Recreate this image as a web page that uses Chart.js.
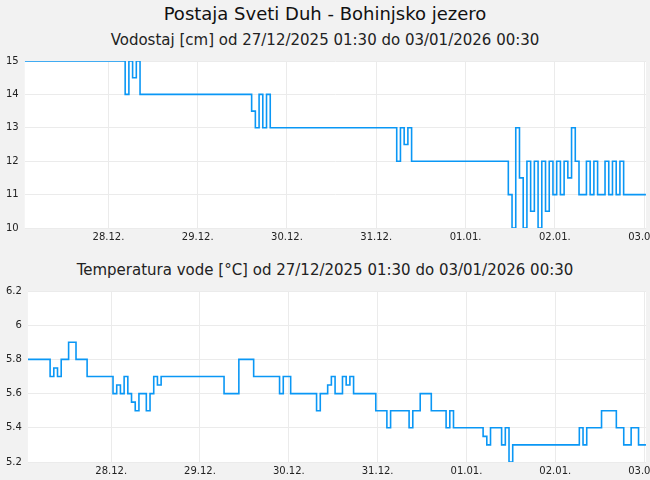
<!DOCTYPE html>
<html><head><meta charset="utf-8">
<script src="https://cdn.jsdelivr.net/npm/chart.js@4"></script>
<style>
body{margin:0;background:#f2f2f2;font-family:"DejaVu Sans",sans-serif;width:650px;height:480px;overflow:hidden;position:relative}
#t{position:absolute;top:3px;left:0;width:650px;text-align:center;font-size:18px;color:#111}
.c{position:absolute;left:0;width:663px}
.s{position:absolute;left:0;width:650px;text-align:center;font-size:15px;color:#222}
</style></head><body>
<div id="t">Postaja Sveti Duh - Bohinjsko jezero</div>
<div class="s" style="top:31px">Vodostaj [cm] od 27/12/2025 01:30 do 03/01/2026 00:30</div>
<div class="s" style="top:261px">Temperatura vode [°C] od 27/12/2025 01:30 do 03/01/2026 00:30</div>
<div class="c" style="top:49px;height:197px"><canvas id="c1"></canvas></div>
<div class="c" style="top:279px;height:201px"><canvas id="c2"></canvas></div>
<script>
const tickHours=[22.5,46.5,70.5,94.5,118.5,142.5,166.5];
const tickLabels=["28.12.","29.12.","30.12.","31.12.","01.01.","02.01.","03.01."];
const level=[
15,15,15,15,15,15,15,15,15,15,15,15,15,15,15,15,15,15,15,15,15,15,15,15,15,15,15,
14,15,14.5,15,14,
14,14,14,14,14,14,14,14,14,14,14,14,14,14,14,14,14,14,14,14,14,14,14,14,14,14,14,14,14,
13.5,13,14,13,14,
13,13,13,13,13,13,13,13,13,13,13,13,13,13,13,13,13,13,13,13,13,13,13,13,13,13,13,13,13,13,13,13,13,13,
12,13,12.5,13,
12,12,12,12,12,12,12,12,12,12,12,12,12,12,12,12,12,12,12,12,12,12,12,12,12,12,
11,10,13,11.5,10,12,10.5,12,10,12,10.5,12,11,12,11,12,11.5,13,12,11,11,12,11,12,11,11,12,11,12,11,12,
11,11,11,11,11,11,11];
const temp=[
5.8,5.8,5.8,5.8,5.8,5.8,
5.7,5.75,5.7,
5.8,5.8,
5.9,5.9,
5.8,5.8,5.8,
5.7,5.7,5.7,5.7,5.7,5.7,5.7,
5.6,5.65,5.6,5.7,5.6,5.55,5.5,5.6,5.6,5.5,5.6,5.7,5.65,5.7,
5.7,5.7,5.7,5.7,5.7,5.7,5.7,5.7,5.7,5.7,5.7,5.7,5.7,5.7,5.7,5.7,
5.6,5.6,5.6,5.6,
5.8,5.8,5.8,5.8,
5.7,5.7,5.7,5.7,5.7,5.7,5.7,
5.6,5.7,5.7,
5.6,5.6,5.6,5.6,5.6,5.6,5.6,
5.5,
5.6,5.6,
5.65,5.7,5.6,5.6,5.7,5.65,5.7,
5.6,5.6,5.6,5.6,5.6,5.6,
5.5,5.5,5.5,
5.4,
5.5,5.5,5.5,5.5,5.5,
5.4,
5.5,5.5,
5.6,5.6,5.6,
5.5,5.5,5.5,5.5,
5.4,5.5,
5.4,5.4,5.4,5.4,5.4,5.4,5.4,5.4,
5.35,5.3,5.4,5.4,5.4,5.3,5.4,5.2,
5.3,5.3,5.3,5.3,5.3,5.3,5.3,5.3,5.3,5.3,5.3,5.3,5.3,5.3,5.3,5.3,5.3,5.3,
5.4,5.3,
5.4,5.4,5.4,5.4,
5.5,5.5,5.5,5.5,
5.4,5.4,
5.3,5.3,
5.4,5.4,
5.3,5.3,5.3];
const hours=level.map((_,i)=>i);
Chart.defaults.font.family='"DejaVu Sans", sans-serif';
const bg={id:'bg',beforeDraw(c){const a=c.chartArea,x=c.ctx;x.save();x.fillStyle='#fff';x.fillRect(a.left,a.top,a.right-a.left,a.bottom-a.top);x.restore();}};
function make(id,data,min,max,step,fmt){
 new Chart(document.getElementById(id),{type:'line',
  data:{datasets:[{data:data.map((v,i)=>({x:hours[i],y:v})),stepped:true,borderColor:'#0a97f5',borderWidth:1.6,pointRadius:0,fill:false}]},
  options:{animation:false,responsive:true,maintainAspectRatio:false,
   layout:{padding:{right:0,left:0,top:6}},
   plugins:{legend:{display:false},tooltip:{enabled:false},title:{display:false}},
   scales:{
    x:{type:'linear',min:0,max:167,
     afterBuildTicks(ax){ax.ticks=tickHours.map(v=>({value:v}));},
     ticks:{autoSkip:false,maxRotation:0,color:'#222',font:{size:10},callback:(v)=>{const k=tickHours.indexOf(v);return k>=0?tickLabels[k]:'';}},
     grid:{color:'#ebebeb',drawTicks:false},border:{display:false}},
    y:{min:min,max:max,ticks:{stepSize:step,color:'#222',font:{size:10},padding:6,callback:fmt},
     grid:{color:'#ebebeb',drawTicks:false},border:{display:false}}
   }},plugins:[bg]});
}
make('c1',level,10,15,1,v=>v);
make('c2',temp,5.2,6.2,0.2,v=>String(Math.round(v*10)/10));
</script></body></html>
